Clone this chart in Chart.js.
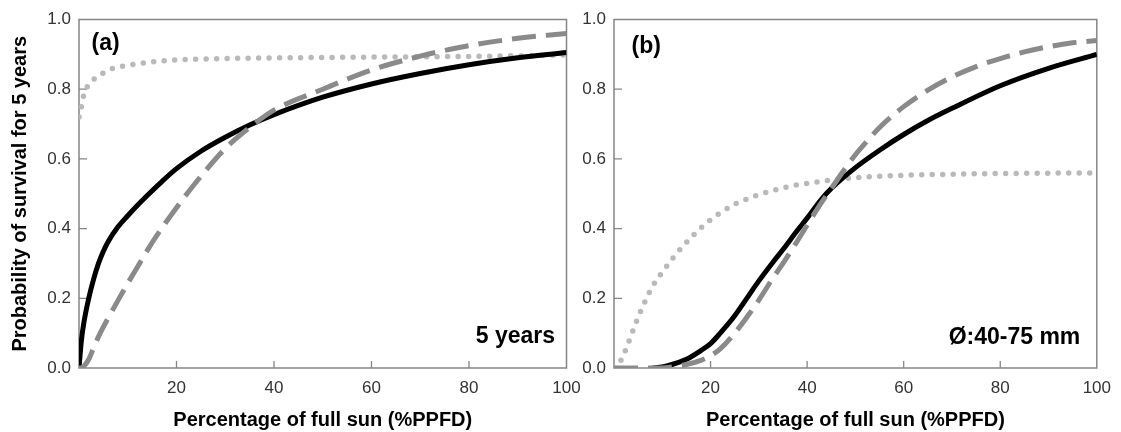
<!DOCTYPE html>
<html><head><meta charset="utf-8">
<script src="https://cdn.jsdelivr.net/npm/chart.js@4.4.0/dist/chart.umd.min.js"></script>
<style>
html,body{margin:0;padding:0;background:#fff;}
#wrap{position:relative;width:1121px;height:432px;background:#fff;}
canvas{position:absolute;left:0;top:0;}
</style></head><body>
<div id="wrap"><canvas id="c1" width="1121" height="432"></canvas><canvas id="c2" width="1121" height="432"></canvas></div>
<script>
// ---------- data ----------
const xAxisTitle = 'Percentage of full sun (%PPFD)';
const yAxisTitle = 'Probability of survival for 5 years';

// Panel (a) — 5 years
const xSolidA = [0, 0.5, 1, 2, 3, 4, 5, 6, 8, 10, 12, 14, 17, 20, 25, 30, 35, 40, 50, 60, 70, 80, 90, 100];
const solidA  = [0, 0.08, 0.13, 0.2, 0.255, 0.3, 0.335, 0.363, 0.405, 0.437, 0.467, 0.495, 0.535, 0.572, 0.622, 0.662, 0.697, 0.727, 0.777, 0.815, 0.845, 0.87, 0.89, 0.905];
const xDashA  = [0, 0.5, 1, 2, 3, 4, 5, 6, 8, 10, 12, 15, 20, 25, 30, 35, 40, 50, 60, 70, 80, 90, 100];
const dashA   = [0, 0, 0.005, 0.025, 0.058, 0.09, 0.118, 0.144, 0.194, 0.243, 0.29, 0.36, 0.46, 0.55, 0.63, 0.69, 0.74, 0.80, 0.855, 0.895, 0.925, 0.946, 0.96];
const xDotA   = [0, 0.5, 1, 2, 3, 4, 5, 6, 8, 10, 12, 15, 20, 25, 30, 40, 50, 60, 70, 80, 90, 100];
const dotA    = [0.72, 0.75, 0.785, 0.813, 0.828, 0.838, 0.847, 0.855, 0.863, 0.868, 0.873, 0.878, 0.884, 0.886, 0.888, 0.89, 0.891, 0.892, 0.893, 0.894, 0.896, 0.898];

// Panel (b) — Ø 40-75 mm
const xSolidB = [8, 10, 12, 15, 18, 20, 22, 25, 28, 30, 33, 35, 38, 40, 43, 45, 50, 55, 60, 65, 70, 80, 90, 100];
const solidB  = [0, 0.003, 0.01, 0.025, 0.05, 0.07, 0.1, 0.15, 0.21, 0.25, 0.305, 0.34, 0.395, 0.43, 0.485, 0.515, 0.575, 0.625, 0.67, 0.71, 0.745, 0.81, 0.86, 0.9];
const xDashB  = [0, 5, 10, 12, 15, 18, 20, 22, 25, 28, 30, 33, 35, 38, 40, 43, 45, 48, 50, 53, 55, 60, 65, 70, 75, 80, 85, 90, 95, 100];
const dashB   = [0, 0, 0, 0.003, 0.01, 0.022, 0.035, 0.055, 0.1, 0.155, 0.195, 0.26, 0.3, 0.365, 0.41, 0.475, 0.515, 0.575, 0.612, 0.66, 0.69, 0.75, 0.797, 0.835, 0.865, 0.888, 0.907, 0.922, 0.933, 0.94];
const xDotB   = [0, 1, 2, 3, 4, 5, 6, 8, 10, 12, 14, 16, 18, 20, 22, 25, 28, 30, 35, 40, 45, 50, 60, 70, 80, 100];
const dotB    = [0, 0.012, 0.038, 0.073, 0.11, 0.146, 0.178, 0.235, 0.275, 0.312, 0.345, 0.375, 0.402, 0.425, 0.445, 0.47, 0.487, 0.497, 0.517, 0.53, 0.539, 0.546, 0.553, 0.556, 0.558, 0.56];

// ---------- styling ----------
const FONT = "'Liberation Sans', Arial, Helvetica, sans-serif";
const pts = (xs, ys) => xs.map((x, i) => ({x, y: ys[i]}));

const framePlugin = {
  id: 'frame',
  beforeDatasetsDraw(chart) {
    const {ctx, chartArea: a, scales: {x, y}} = chart;
    ctx.save();
    ctx.strokeStyle = '#858585';
    ctx.lineWidth = 1.5;
    ctx.strokeRect(a.left, a.top, a.right - a.left, a.bottom - a.top);
    ctx.lineWidth = 1.3;
    ctx.beginPath();
    x.ticks.forEach(t => {
      if (t.value > x.min && t.value < x.max) {
        const p = x.getPixelForValue(t.value);
        ctx.moveTo(p, a.bottom); ctx.lineTo(p, a.bottom - 7);
      }
    });
    y.ticks.forEach(t => {
      if (t.value > y.min + 1e-9 && t.value < y.max - 1e-9) {
        const p = y.getPixelForValue(t.value);
        ctx.moveTo(a.left, p); ctx.lineTo(a.left + 8, p);
      }
    });
    ctx.stroke();
    ctx.restore();
  }
};

const notePlugin = {
  id: 'notes',
  afterDraw(chart, args, opts) {
    const {ctx, chartArea: a} = chart;
    ctx.save();
    ctx.fillStyle = '#000';
    (opts.items || []).forEach(it => {
      ctx.font = 'bold ' + it.size + 'px ' + FONT;
      ctx.textAlign = it.align;
      ctx.textBaseline = 'alphabetic';
      const x = it.fromRight ? a.right - it.dx : a.left + it.dx;
      const y = it.fromBottom ? a.bottom - it.dy : a.top + it.dy;
      ctx.fillText(it.text, x, y);
    });
    ctx.restore();
  }
};

function datasets(xs, ys, xd, yd, xo, yo) {
  return [
    { label: 'dashed', data: pts(xd, yd), borderColor: '#8a8a8a', borderWidth: 5,
      borderDash: [24, 10], borderCapStyle: 'butt', pointRadius: 0, cubicInterpolationMode: 'monotone', fill: false },
    { label: 'solid', data: pts(xs, ys), borderColor: '#000000', borderWidth: 5,
      pointRadius: 0, cubicInterpolationMode: 'monotone', fill: false },
    { label: 'dotted', data: pts(xo, yo), borderColor: '#b9b9b9', borderWidth: 5.5,
      borderDash: [0, 10.5], borderCapStyle: 'round', pointRadius: 0, cubicInterpolationMode: 'monotone', fill: false }
  ];
}

function makeChart(id, ds, padding, yWidth, showYTitle, notes) {
  return new Chart(document.getElementById(id), {
    type: 'line',
    data: { datasets: ds },
    plugins: [framePlugin, notePlugin],
    options: {
      responsive: false, animation: false, devicePixelRatio: 1,
      layout: { padding },
      plugins: { legend: { display: false }, tooltip: { enabled: false }, notes: { items: notes } },
      scales: {
        x: {
          type: 'linear', min: 0, max: 100,
          grid: { display: false, drawTicks: false }, border: { display: false },
          ticks: { stepSize: 20, autoSkip: false, maxRotation: 0, padding: 10, color: '#333',
                   font: { family: FONT, size: 17 },
                   callback: v => (v === 0 ? '' : String(v)) },
          title: { display: true, text: xAxisTitle, color: '#000',
                   font: { family: FONT, size: 20, weight: 'bold' }, padding: { top: 0, bottom: 0 } },
          afterFit: s => { s.height = 64; }
        },
        y: {
          min: 0, max: 1,
          grid: { display: false, drawTicks: false }, border: { display: false },
          ticks: { stepSize: 0.2, padding: 8, color: '#333', font: { family: FONT, size: 17 },
                   callback: v => Number(v).toFixed(1) },
          title: { display: showYTitle, text: yAxisTitle, color: '#000',
                   font: { family: FONT, size: 20, weight: 'bold' }, padding: { top: 8, bottom: 0 } },
          afterFit: s => { s.width = yWidth; }
        }
      }
    }
  });
}

makeChart('c1', datasets(xSolidA, solidA, xDashA, dashA, xDotA, dotA),
  { left: 0, top: 19.5, right: 554.5, bottom: 0 }, 79, true,
  [ { text: '(a)', size: 23, align: 'left', dx: 12.5, dy: 30.5 },
    { text: '5 years', size: 23, align: 'right', dx: 11.5, dy: 25, fromRight: true, fromBottom: true } ]);

makeChart('c2', datasets(xSolidB, solidB, xDashB, dashB, xDotB, dotB),
  { left: 574, top: 19.5, right: 19.5, bottom: 0 }, 40, false,
  [ { text: '(b)', size: 23, align: 'left', dx: 17.5, dy: 33.5 },
    { text: 'Ø:40-75 mm', size: 23, align: 'right', dx: 16.5, dy: 24, fromRight: true, fromBottom: true } ]);
</script>
</body></html>
